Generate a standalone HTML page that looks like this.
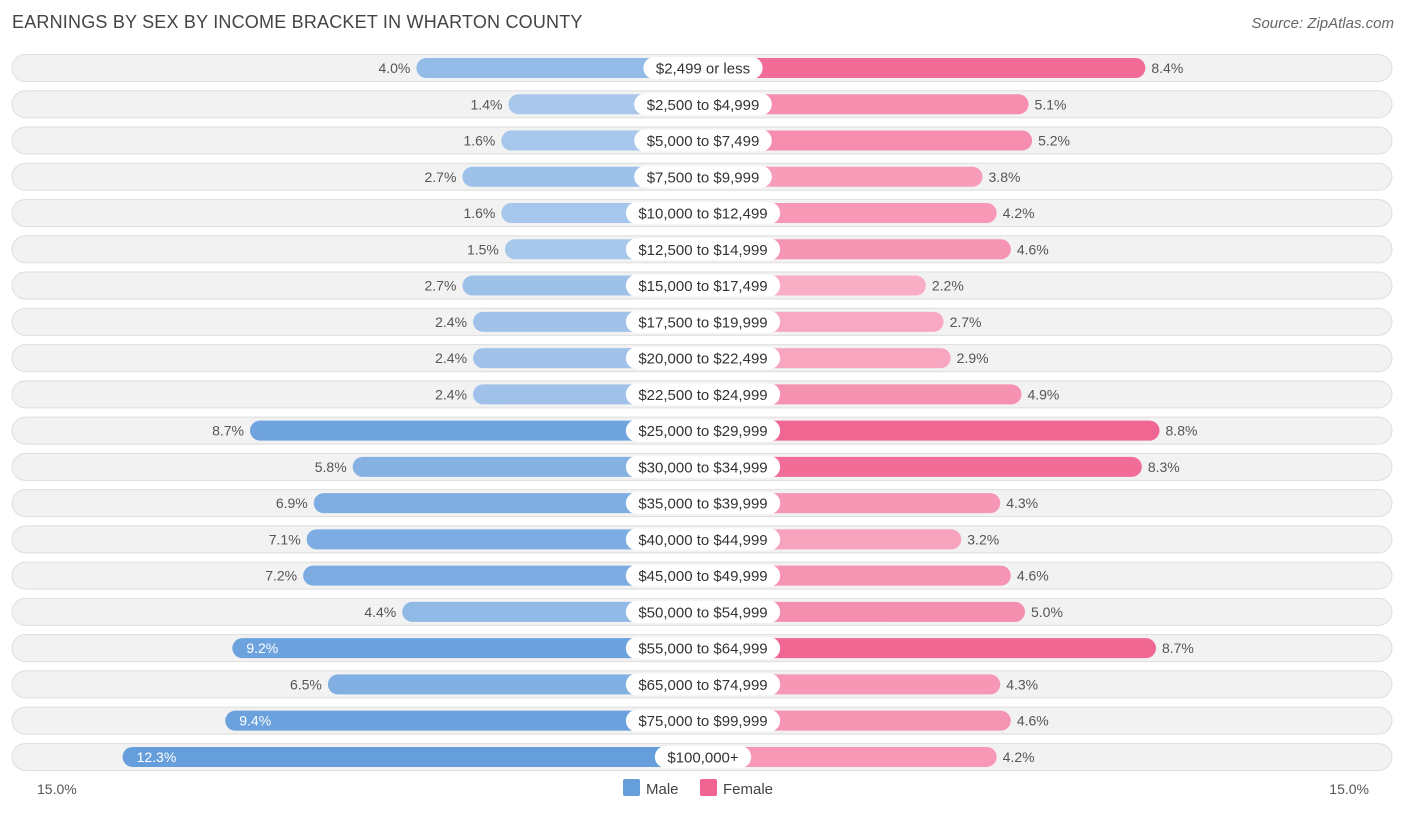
<!DOCTYPE html>
<html><head><meta charset="utf-8"><style>
body{margin:0;width:1406px;height:813px;background:#fff;font-family:"Liberation Sans",sans-serif;overflow:hidden;position:relative}
#title{position:absolute;left:12px;top:12px;font-size:18px;color:#444;letter-spacing:0.2px}
#source{position:absolute;right:12px;top:15px;font-size:15px;color:#666;font-style:italic}
</style></head><body>
<div id="title">EARNINGS BY SEX BY INCOME BRACKET IN WHARTON COUNTY</div>
<div id="source">Source: ZipAtlas.com</div>
<svg id="chart" width="1406" height="813" style="position:absolute;left:0;top:0"></svg>
<script>
const categories=["$2,499 or less","$2,500 to $4,999","$5,000 to $7,499","$7,500 to $9,999","$10,000 to $12,499","$12,500 to $14,999","$15,000 to $17,499","$17,500 to $19,999","$20,000 to $22,499","$22,500 to $24,999","$25,000 to $29,999","$30,000 to $34,999","$35,000 to $39,999","$40,000 to $44,999","$45,000 to $49,999","$50,000 to $54,999","$55,000 to $64,999","$65,000 to $74,999","$75,000 to $99,999","$100,000+"];
const maleValues=[4.0,1.4,1.6,2.7,1.6,1.5,2.7,2.4,2.4,2.4,8.7,5.8,6.9,7.1,7.2,4.4,9.2,6.5,9.4,12.3];
const femaleValues=[8.4,5.1,5.2,3.8,4.2,4.6,2.2,2.7,2.9,4.9,8.8,8.3,4.3,3.2,4.6,5.0,8.7,4.3,4.6,4.2];
const axisLabels=["15.0%","15.0%"];
const NS="http://www.w3.org/2000/svg";
const svg=document.getElementById('chart');
const cx=703,base=145,k=35.4,y0=68,dy=36.26;
function xM(v){return cx-base-v*k}
function xF(v){return cx+base+v*k}
function yRow(i){return y0+i*dy}
function mix(a,b,t){return 'rgb('+a.map((c,i)=>Math.round(c+(b[i]-c)*t)).join(',')+')'}
function mk(tag,attrs,parent){const e=document.createElementNS(NS,tag);for(const a in attrs)e.setAttribute(a,attrs[a]);(parent||svg).appendChild(e);return e}
categories.forEach((c,i)=>{
  const y=yRow(i);
  const g=mk('g',{});
  
  
  const bg=mk('rect',{x:12,y:y-13.5,width:1380,height:27,rx:13.5,fill:'#f2f2f2',stroke:'#dedede','stroke-width':1},g);
  
  
  const mv=maleValues[i],fv=femaleValues[i];
  const mt=Math.min(1,Math.max(0,(mv-1)/9));
  const ft=Math.min(1,Math.max(0,(fv-2)/7));
  const mb=mk('rect',{x:xM(mv),y:y-10,width:cx-xM(mv),height:20,rx:10,fill:mix([171,201,236],[102,158,220],mt)},g);
  
  
  const fb=mk('rect',{x:cx,y:y-10,width:xF(fv)-cx,height:20,rx:10,fill:mix([249,176,199],[240,100,145],ft)},g);
  
  
  const inside=mv>9;
  const mtx=mk('text',{x:inside?xM(mv)+14:xM(mv)-6,y:y+5,'font-size':14,fill:inside?'#fff':'#555','text-anchor':inside?'start':'end'},g);
  mtx.textContent=mv.toFixed(1)+'%';
  
  
  const ftx=mk('text',{x:xF(fv)+6,y:y+5,'font-size':14,fill:'#555'},g);
  ftx.textContent=fv.toFixed(1)+'%';
  
  
  const lb=mk('rect',{x:cx,y:y-11,width:10,height:22,rx:11,fill:'#fff'},g);
  
  
  const lt=mk('text',{x:cx,y:y+5.5,'font-size':15,fill:'#333','text-anchor':'middle'},g);
  lt.textContent=c;
  
  
  const w=lt.getComputedTextLength()+25;
  lb.setAttribute('x',cx-w/2);
  lb.setAttribute('width',w);
});
const a1=mk('text',{x:37,y:794,'font-size':14,fill:'#555'});a1.textContent=axisLabels[0];


const a2=mk('text',{x:1369,y:794,'font-size':14,fill:'#555','text-anchor':'end'});a2.textContent=axisLabels[1];


const l1=mk('rect',{x:623,y:779,width:17,height:17,rx:2,fill:'#669edc'});


const t1=mk('text',{x:646,y:794,'font-size':15,fill:'#444'});t1.textContent='Male';


const l2=mk('rect',{x:700,y:779,width:17,height:17,rx:2,fill:'#f06491'});


const t2=mk('text',{x:723,y:794,'font-size':15,fill:'#444'});t2.textContent='Female';


</script>
</body></html>
